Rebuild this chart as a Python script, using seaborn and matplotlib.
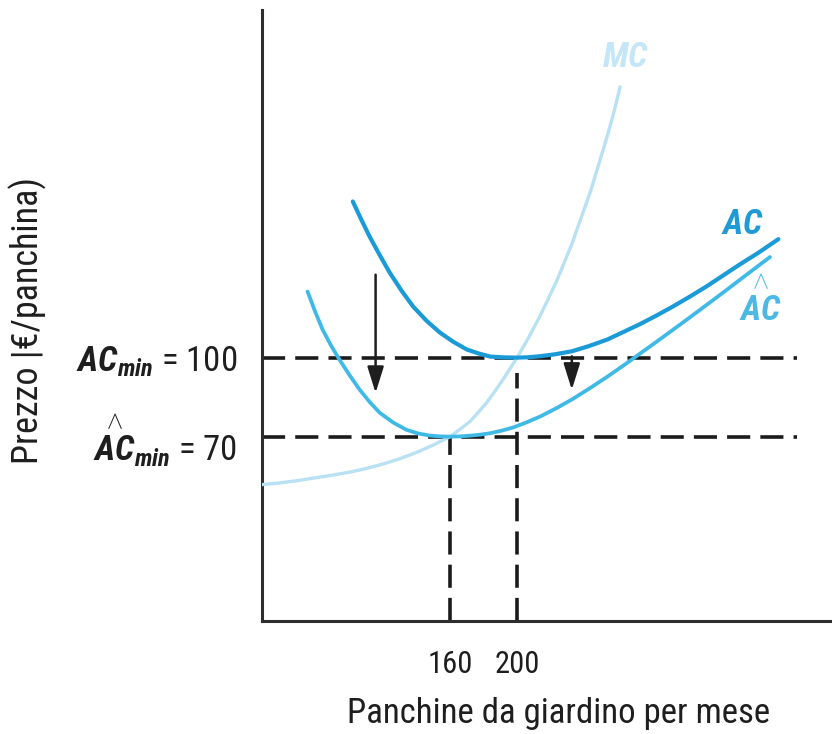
import matplotlib
matplotlib.use("Agg")
import matplotlib.pyplot as plt
from matplotlib import font_manager
import seaborn as sns
import pandas as pd

# Quantity (garden benches per month) and cost per bench
q_ac = [102, 107, 112, 118, 124, 131, 138, 146, 154, 162, 170, 177, 184, 192, 200,
        207, 214, 223, 233, 243, 254, 263, 273, 283, 293, 303, 313, 323, 333, 344, 356]
ac = [159.3, 152.5, 146.0, 139.0, 132.3, 125.5, 119.4, 114.0, 109.5, 106.0, 103.1, 101.6, 100.4, 100.1, 100.0,
      100.15, 100.55, 101.3, 102.45, 104.4, 106.9, 109.6, 112.6, 115.9, 119.4, 123.1, 127.0, 131.2, 135.4, 139.8, 145.0]

q_ach = [75, 79.5, 84, 89, 94, 100, 106, 112, 118, 126, 134, 141, 148, 154, 160, 166, 172, 178, 184,
         191, 198, 206, 214, 223.5, 233, 243.5, 254, 263.5, 273, 283, 293, 303, 313, 323, 333, 342, 351]
ach = [125.1, 117.5, 110.6, 104.6, 99.3, 93.4, 87.9, 83.2, 79.1, 75.4, 72.6, 71.2, 70.4, 70.1, 70.0, 70.1, 70.36, 70.75, 71.3,
       72.3, 73.55, 75.5, 77.7, 80.8, 84.2, 88.4, 92.8, 97.0, 101.35, 105.9, 110.55, 115.2, 119.95, 124.7, 129.55, 133.9, 138.2]

q_mc = [48, 58, 70, 80, 90, 100, 110, 120, 130, 140, 150, 160, 166, 172, 177, 182, 187, 192, 196, 200,
        203.5, 207, 210.5, 214, 219, 224, 228.5, 233, 238.5, 244, 249, 254, 258, 261.5]
mc = [51.8, 52.4, 53.4, 54.4, 55.4, 56.5, 57.9, 59.6, 61.6, 64.0, 66.8, 70.0, 72.8, 75.8, 79.3, 83.0, 87.4, 92.0, 96.0, 100.0,
      103.8, 107.7, 111.9, 116.1, 122.8, 129.6, 136.6, 143.6, 153.5, 163.4, 173.9, 184.4, 193.6, 202.8]

ac_min, ach_min = 100, 70
q_ac_min, q_ach_min = 200, 160
x_ticks = [160, 200]
x_tick_labels = ["160", "200"]

# Downward shifts of the average cost curve
arrow_q = [115.6, 232.7]
arrow_from = [131.5, 100.5]
arrow_to = [86.6, 87.8]

C_AC = "#1a9ad6"
C_ACH = "#3fb9e6"
C_MC = "#b8e1f3"
C_AXIS = "#2e2e2e"
C_TEXT = "#1e1e1e"


def pick_font(cands):
    names = {f.name for f in font_manager.fontManager.ttflist}
    for c in cands:
        if c in names:
            return c
    return "DejaVu Sans"


sns.set_style("white")
FONT = pick_font(["Liberation Sans Narrow", "Roboto Condensed", "Liberation Sans"])
plt.rcParams["font.family"] = [FONT, "DejaVu Sans"]
plt.rcParams["mathtext.fontset"] = "custom"
plt.rcParams["mathtext.rm"] = FONT
plt.rcParams["mathtext.it"] = FONT + ":italic"
plt.rcParams["mathtext.bf"] = FONT + ":bold"
plt.rcParams["mathtext.bfit"] = FONT + ":italic:bold"

HAT_AC = r"\overset{\wedge}{\mathbfit{AC}}"

fig = plt.figure(figsize=(8.32, 7.34), dpi=100)
ax = fig.add_axes([262 / 832, 113 / 734, 570 / 832, 611 / 734])
ax.set_xlim(47.8, 388)
ax.set_ylim(0, 232)

# Reference levels (dashed)
dash = dict(color="#1b1b1b", lw=2.6, dashes=(6.4, 2.8), zorder=2)
ax.plot([47.8, 367], [ac_min, ac_min], **dash)
ax.plot([47.8, 367], [ach_min, ach_min], **dash)
ax.plot([q_ach_min, q_ach_min], [0, ach_min], **dash)
ax.plot([q_ac_min, q_ac_min], [0, ac_min - 6], **dash)

df_mc = pd.DataFrame({"q": q_mc, "c": mc})
df_ac = pd.DataFrame({"q": q_ac, "c": ac})
df_ach = pd.DataFrame({"q": q_ach, "c": ach})
sns.lineplot(data=df_mc, x="q", y="c", sort=False, color=C_MC, lw=2.4, ax=ax, zorder=3)
sns.lineplot(data=df_ach, x="q", y="c", sort=False, color=C_ACH, lw=2.7, ax=ax, zorder=4)
sns.lineplot(data=df_ac, x="q", y="c", sort=False, color=C_AC, lw=3.0, ax=ax, zorder=5)
for ln in ax.lines:
    ln.set_solid_capstyle("round")
    ln.set_solid_joinstyle("round")

for xq, y0, y1 in zip(arrow_q, arrow_from, arrow_to):
    ax.annotate("", xy=(xq, y1), xytext=(xq, y0),
                arrowprops=dict(arrowstyle="-|>,head_length=1.6,head_width=0.5",
                                lw=1.8, color=C_TEXT, mutation_scale=10,
                                shrinkA=0, shrinkB=0), zorder=6)

# Curve names
ax.text(264.5, 213.9, r"$\mathbfit{MC}$", color="#c4e6f6", fontsize=25, ha="center", va="center")
ax.text(334.3, 150.5, r"$\mathbfit{AC}$", color="#1e9bd7", fontsize=25, ha="center", va="center")
ax.text(345.5, 121.0, "$" + HAT_AC + "$", color="#4cb8e6", fontsize=25, ha="center", va="center")

# Axes styling
for s in ("top", "right"):
    ax.spines[s].set_visible(False)
for s in ("left", "bottom"):
    ax.spines[s].set_color(C_AXIS)
    ax.spines[s].set_linewidth(2.2)

ax.set_xticks(x_ticks)
ax.set_xticklabels(x_tick_labels, fontsize=22)
ax.set_yticks([ach_min, ac_min])
ax.set_yticklabels(["$" + HAT_AC + r"_{\mathbfit{min}}$ = " + str(ach_min),
                    r"$\mathbfit{AC}_{\mathbfit{min}}$ = " + str(ac_min)], fontsize=25)
ax.tick_params(axis="both", length=0, colors=C_TEXT)
ax.tick_params(axis="x", pad=21)
ax.tick_params(axis="y", pad=18)

ax.set_xlabel("Panchine da giardino per mese", fontsize=25, color=C_TEXT)
ax.xaxis.set_label_coords(0.521, -0.125)
ax.set_ylabel("")
fig.text(28 / 832, 1 - 320 / 734, "Prezzo |€/panchina)", rotation=90, fontsize=26,
         color=C_TEXT, ha="center", va="center")

fig.savefig("out.png", dpi=100, facecolor="white")
